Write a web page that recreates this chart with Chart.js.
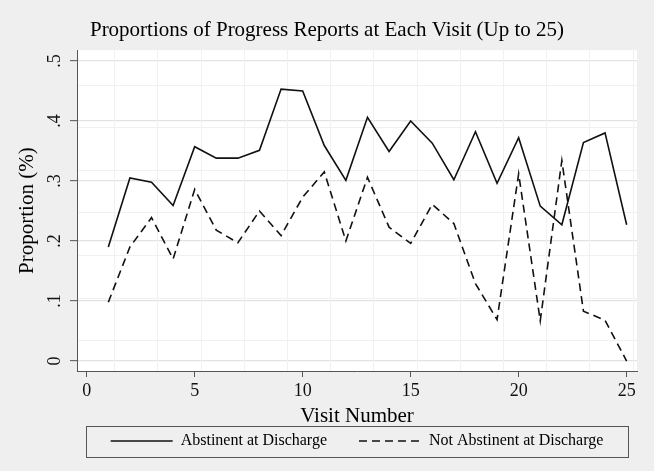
<!DOCTYPE html>
<html>
<head>
<meta charset="utf-8">
<script src="https://cdn.jsdelivr.net/npm/chart.js@4.4.1/dist/chart.umd.min.js"></script>
<style>
  html, body { margin: 0; padding: 0; background: #efefef; }
  canvas { display: block; }
</style>
</head>
<body>
<canvas id="c" width="654" height="471"></canvas>
<script>
// ---- data ----
const chartTitle = 'Proportions of Progress Reports at Each Visit (Up to 25)';
const xTitle = 'Visit Number';
const yTitle = 'Proportion (%)';
const seriesNames = ['Abstinent at Discharge', 'Not Abstinent at Discharge'];
const visits = [1,2,3,4,5,6,7,8,9,10,11,12,13,14,15,16,17,18,19,20,21,22,23,24,25];
const abstinent = [0.190,0.305,0.298,0.259,0.357,0.338,0.338,0.351,0.453,0.450,0.359,0.301,0.406,0.349,0.400,0.363,0.302,0.382,0.296,0.372,0.258,0.227,0.364,0.380,0.227];
const notAbstinent = [0.098,0.190,0.239,0.170,0.286,0.218,0.197,0.250,0.209,0.273,0.315,0.200,0.306,0.223,0.196,0.261,0.229,0.129,0.069,0.312,0.067,0.334,0.083,0.068,0.000];
const xTicks = [0,5,10,15,20,25];
const yTickValues = [0,0.1,0.2,0.3,0.4,0.5];
const yTickLabels = ['0','.1','.2','.3','.4','.5'];

// ---- style / layout ----
const FONT = 'Liberation Serif';
const AXIS = '#555555';
const X_RANGE = [-0.45, 25.48];
const Y_RANGE = [-0.0166, 0.5178];
const LEG_FONT = 16, LEG_PAD = 32;
// faint background grid (start, step, count)
const FAINT_X = {start: 1.3, step: 2, count: 13};
const FAINT_Y = {start: 0.034, step: 0.0709, count: 7};
function seq(o){ const a=[]; for(let i=0;i<o.count;i++) a.push({value:o.start+i*o.step}); return a; }

const framePlugin = {
  id: 'frame',
  beforeDraw(chart) {
    const {ctx, chartArea: a} = chart;
    ctx.save();
    ctx.fillStyle = '#efefef';
    ctx.fillRect(0, 0, chart.width, chart.height);
    ctx.fillStyle = '#ffffff';
    ctx.fillRect(a.left, a.top, a.right - a.left, a.bottom - a.top);
    ctx.restore();
  },
  afterDraw(chart) {
    const {ctx} = chart;
    const lg = chart.legend, xs = chart.scales.x;
    const mid = lg.top + LEG_PAD + LEG_FONT / 2;
    const l = Math.round(xs.getPixelForValue(xTicks[0])) - 0.5;
    const r = Math.round(xs.getPixelForValue(xTicks[xTicks.length - 1])) + 1.5;
    ctx.save();
    ctx.strokeStyle = AXIS;
    ctx.lineWidth = 1;
    ctx.strokeRect(l, Math.round(mid - 15.5) + 0.5, r - l, 31);
    ctx.restore();
  }
};

new Chart(document.getElementById('c'), {
  type: 'line',
  data: {
    datasets: [
      {
        label: seriesNames[0],
        data: visits.map((v, i) => ({x: v, y: abstinent[i]})),
        borderColor: '#111111', borderWidth: 1.6,
        pointRadius: 0, tension: 0, fill: false
      },
      {
        label: seriesNames[1],
        data: visits.map((v, i) => ({x: v, y: notAbstinent[i]})),
        borderColor: '#111111', borderWidth: 1.6, borderDash: [8, 5],
        pointRadius: 0, tension: 0, fill: false
      }
    ]
  },
  options: {
    responsive: false,
    animation: false,
    devicePixelRatio: 1,
    layout: {padding: {left: 0, right: 0, top: 0, bottom: 12}},
    plugins: {
      tooltip: {enabled: false},
      title: {
        display: true, text: chartTitle, color: '#000',
        font: {family: FONT, size: 21, weight: 'normal'},
        padding: {top: 18, bottom: 7}
      },
      legend: {
        position: 'bottom', fullSize: false,
        labels: {
          usePointStyle: true, pointStyle: 'line', pointStyleWidth: 62,
          padding: LEG_PAD, color: '#000',
          font: {family: FONT, size: LEG_FONT},
          generateLabels: (chart) => {
            const items = Chart.defaults.plugins.legend.labels.generateLabels(chart);
            items.forEach(it => {
              const ds = chart.data.datasets[it.datasetIndex];
              it.lineDash = ds.borderDash || [];
              it.strokeStyle = ds.borderColor;
              it.lineWidth = ds.borderWidth;
              it.pointStyle = 'line';
            });
            return items;
          }
        }
      }
    },
    scales: {
      x: {
        type: 'linear', position: 'bottom',
        min: X_RANGE[0], max: X_RANGE[1],
        afterBuildTicks: s => { s.ticks = xTicks.map(v => ({value: v})); },
        afterFit: s => { s.height = 30; },
        ticks: {color: '#111', font: {family: FONT, size: 18}, padding: 3, maxRotation: 0},
        grid: {drawOnChartArea: false, drawTicks: true, tickLength: 6, tickColor: AXIS, tickWidth: 1},
        border: {display: true, color: AXIS, width: 1},
        title: {display: true, text: xTitle, color: '#000',
                font: {family: FONT, size: 21, weight: 'normal'},
                padding: {top: 0, bottom: -27.6}}
      },
      y: {
        type: 'linear', position: 'left',
        min: Y_RANGE[0], max: Y_RANGE[1],
        afterBuildTicks: s => { s.ticks = yTickValues.map(v => ({value: v})); },
        afterFit: s => { s.width = 77; },
        ticks: {
          color: '#111', font: {family: FONT, size: 18}, padding: 8,
          minRotation: 90, maxRotation: 90, crossAlign: 'center',
          callback: (v) => { const i = yTickValues.findIndex(t => Math.abs(t - v) < 1e-9); return i >= 0 ? yTickLabels[i] : ''; }
        },
        grid: {color: '#e2e2e2', lineWidth: 1.3, tickLength: 7, tickColor: AXIS, tickWidth: 1},
        border: {display: true, color: AXIS, width: 1},
        title: {display: true, text: yTitle, color: '#000',
                font: {family: FONT, size: 21, weight: 'normal'},
                padding: {top: 15, bottom: 0}}
      },
      xFaint: {
        type: 'linear', position: 'bottom',
        min: X_RANGE[0], max: X_RANGE[1],
        afterBuildTicks: s => { s.ticks = seq(FAINT_X); },
        afterFit: s => { s.height = 0; },
        ticks: {display: false},
        grid: {color: '#f1f1f1', lineWidth: 1, drawTicks: false},
        border: {display: false}
      },
      yFaint: {
        type: 'linear', position: 'right',
        min: Y_RANGE[0], max: Y_RANGE[1],
        afterBuildTicks: s => { s.ticks = seq(FAINT_Y); },
        afterFit: s => { s.width = 17; },
        ticks: {display: false},
        grid: {color: '#f1f1f1', lineWidth: 1, drawTicks: false},
        border: {display: false}
      }
    }
  },
  plugins: [framePlugin]
});
</script>
</body>
</html>
